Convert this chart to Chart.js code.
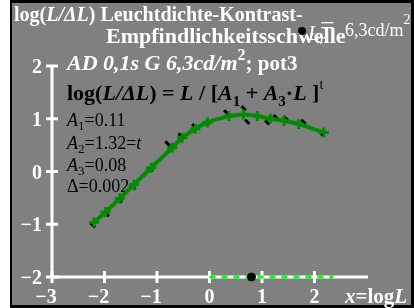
<!DOCTYPE html>
<html>
<head>
<meta charset="utf-8">
<script src="https://cdn.jsdelivr.net/npm/chart.js@4/dist/chart.umd.min.js"></script>
<style>
    body { margin: 0; background: #fff; }
    canvas { display: block; }
</style>
</head>
<body>
<canvas id="chart" width="414" height="308"></canvas>
<script>
// Ticks
const xTicks = [-3, -2, -1, 0, 1, 2];
const yTicks = [-2, -1, 0, 1, 2];

// Fitted curve (green)
const fitX = [-2.2, -1.98, -1.71, -1.44, -1.11, -0.71, -0.52, -0.27, -0.04, 0.37, 0.65, 0.91, 1.16, 1.42, 1.7, 2.18];
const fitY = [-0.96, -0.77, -0.51, -0.25, 0.07, 0.45, 0.64, 0.81, 0.93, 1.05, 1.08, 1.05, 1.0, 0.96, 0.9, 0.74];

// Measured points (black)
const dataX = [-2.22, -1.96, -1.71, -1.45, -1.12, -0.8, -0.55, -0.29, -0.02, 0.32, 0.65, 0.72, 1.1, 1.26, 1.45, 1.79, 2.13];
const dataY = [-1.02, -0.81, -0.55, -0.3, 0.04, 0.53, 0.68, 0.86, 0.94, 1.12, 1.2, 0.94, 0.93, 1.03, 1.01, 0.94, 0.72];

// Adaptation marker on the x axis
const adaptX = [0.8];
const adaptY = [-2];
const rangeX = [0, 2.36];
const rangeY = [-2, -2];

const serif = '"Liberation Serif", "Times New Roman", serif';

function toPoints(xs, ys) {
    return xs.map((x, i) => ({ x: x, y: ys[i] }));
}

// Draw a run of text pieces with own fonts and offsets
function drawRuns(ctx, x, y, runs, color) {
    ctx.fillStyle = color;
    ctx.textAlign = 'left';
    ctx.textBaseline = 'alphabetic';
    runs.forEach(r => {
        ctx.font = r.f;
        ctx.fillText(r.t, x, y + (r.dy || 0));
        x += ctx.measureText(r.t).width;
    });
}

const B = s => `bold ${s}px ${serif}`;
const BI = s => `bold italic ${s}px ${serif}`;
const N = s => `${s}px ${serif}`;
const I = s => `italic ${s}px ${serif}`;

const framePlugin = {
    id: 'frame',
    beforeDraw(chart) {
        const ctx = chart.ctx;
        ctx.save();
        ctx.fillStyle = '#fff';
        ctx.fillRect(0, 0, 414, 308);
        ctx.fillStyle = '#000';
        ctx.fillRect(10, 0, 404, 308);
        ctx.fillStyle = '#808080';
        ctx.fillRect(12, 3, 399, 302);
        ctx.restore();
    },
    beforeDatasetsDraw(chart) {
        const ctx = chart.ctx;
        const xs = chart.scales.x;
        const ys = chart.scales.y;
        const x0 = xs.getPixelForValue(-3);
        const y0 = ys.getPixelForValue(-2);
        ctx.save();

        // Axes
        ctx.strokeStyle = '#fff';
        ctx.lineWidth = 3;
        ctx.beginPath();
        ctx.moveTo(x0, ys.getPixelForValue(2) - 1);
        ctx.lineTo(x0, y0);
        ctx.lineTo(chart.chartArea.right, y0);
        ctx.stroke();

        xTicks.forEach(v => {
            const px = xs.getPixelForValue(v);
            ctx.beginPath();
            ctx.moveTo(px, y0 - 6);
            ctx.lineTo(px, y0 + 6);
            ctx.stroke();
            ctx.font = B(20);
            ctx.fillStyle = '#fff';
            ctx.textAlign = 'center';
            ctx.textBaseline = 'alphabetic';
            ctx.fillText(v < 0 ? '\u2212' + Math.abs(v) : String(v), px - (v < 0 ? 6 : 0), 303);
        });
        yTicks.forEach(v => {
            const py = ys.getPixelForValue(v);
            ctx.beginPath();
            ctx.moveTo(x0 - 6, py);
            ctx.lineTo(x0 + 6, py);
            ctx.stroke();
            ctx.font = B(20);
            ctx.fillStyle = '#fff';
            ctx.textAlign = 'right';
            ctx.textBaseline = 'middle';
            ctx.fillText(v < 0 ? '\u2212' + Math.abs(v) : String(v), 42, py + 2);
        });

        drawRuns(ctx, 345, 303, [
            { t: 'x', f: BI(21) }, { t: '=log', f: B(21) }, { t: 'L', f: BI(21) }
        ], '#fff');

        // Title
        drawRuns(ctx, 14, 21, [
            { t: 'log(', f: B(20) }, { t: 'L/\u0394L', f: BI(20) }, { t: ') Leuchtdichte-Kontrast-', f: B(20) }
        ], '#fff');
        drawRuns(ctx, 106, 43, [{ t: 'Empfindlichkeitsschwelle', f: B(22) }], '#fff');

        ctx.fillStyle = '#000';
        ctx.beginPath();
        ctx.arc(302, 31, 4, 0, Math.PI * 2);
        ctx.fill();
        drawRuns(ctx, 308, 40, [{ t: 'L', f: I(21) }, { t: 'r', f: I(14), dy: 4 }], '#fff');
        drawRuns(ctx, 320, 34, [{ t: '=', f: N(26) }], '#fff');
        drawRuns(ctx, 345, 36, [{ t: '6,3cd/m', f: N(18) }, { t: '2', f: N(14), dy: -12 }], '#fff');

        // Legend texts
        drawRuns(ctx, 67, 70, [
            { t: 'AD 0,1s G 6,3cd/m', f: BI(22) }, { t: '2', f: B(16), dy: -10 }, { t: '; pot3', f: B(21) }
        ], '#fff');
        drawRuns(ctx, 67, 100, [
            { t: 'log(', f: B(22) }, { t: 'L/\u0394L', f: BI(22) }, { t: ') = ', f: B(22) },
            { t: 'L', f: BI(22) }, { t: ' / [', f: B(22) }, { t: 'A', f: BI(22) },
            { t: '1', f: B(15), dy: 6 }, { t: ' + ', f: B(22) }, { t: 'A', f: BI(22) },
            { t: '3', f: B(15), dy: 6 }, { t: '\u00b7', f: B(22) }, { t: 'L', f: BI(22) },
            { t: ' ]', f: B(22) }, { t: 't', f: N(14), dy: -11 }
        ], '#000');
        drawRuns(ctx, 67, 126, [{ t: 'A', f: I(18) }, { t: '1', f: N(13), dy: 4 }, { t: '=0.11', f: N(18) }], '#000');
        drawRuns(ctx, 67, 149, [{ t: 'A', f: I(18) }, { t: '2', f: N(13), dy: 4 }, { t: '=1.32=', f: N(18) }, { t: 't', f: I(18) }], '#000');
        drawRuns(ctx, 67, 171, [{ t: 'A', f: I(18) }, { t: '3', f: N(13), dy: 4 }, { t: '=0.08', f: N(18) }], '#000');
        drawRuns(ctx, 67, 192, [{ t: '\u0394=0.002', f: N(18) }], '#000');

        ctx.restore();
    }
};

new Chart(document.getElementById('chart'), {
    type: 'scatter',
    data: {
        datasets: [
            {
                data: toPoints(fitX, fitY),
                showLine: true,
                borderColor: 'rgb(0,140,0)',
                backgroundColor: 'rgb(0,140,0)',
                borderWidth: 4,
                tension: 0.4,
                pointStyle: 'cross',
                pointRadius: 5,
                pointBorderWidth: 3
            },
            {
                data: toPoints(dataX, dataY),
                borderColor: '#000',
                backgroundColor: '#000',
                pointStyle: 'line',
                rotation: 45,
                pointRadius: 3,
                pointBorderWidth: 3
            },
            {
                data: toPoints(adaptX, adaptY),
                borderColor: '#000',
                backgroundColor: '#000',
                pointRadius: 4,
                clip: false
            },
            {
                data: toPoints(rangeX, rangeY),
                showLine: true,
                borderColor: '#00ff00',
                borderWidth: 3,
                borderDash: [6, 6],
                pointRadius: 0,
                clip: false
            }
        ]
    },
    options: {
        responsive: false,
        animation: false,
        devicePixelRatio: 1,
        layout: { padding: { left: 52, right: 46, top: 66, bottom: 31 } },
        scales: {
            x: { type: 'linear', min: -3, max: 3.02, display: false },
            y: { type: 'linear', min: -2, max: 2, display: false }
        },
        plugins: {
            legend: { display: false },
            tooltip: { enabled: false }
        }
    },
    plugins: [framePlugin]
});
</script>
</body>
</html>
